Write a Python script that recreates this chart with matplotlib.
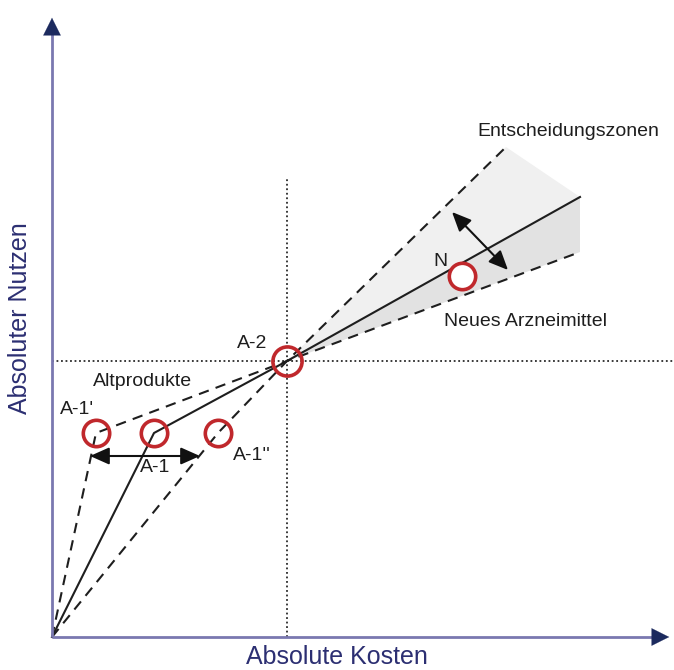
import matplotlib
matplotlib.use("Agg")
import matplotlib.pyplot as plt
from matplotlib.patches import Polygon

plt.rcParams['font.family'] = ['Liberation Sans', 'DejaVu Sans']

# ---- data (abstract cost / benefit units) ----
origin = (0, 0)
old_names = ["A-1'", "A-1", "A-1''"]
old_cost = [44, 102, 166]
old_benefit = [204, 204, 204]
a2_cost, a2_benefit = 235, 276
n_cost, n_benefit = 410, 361
# ends of the decision-zone rays
upper_end = (454, 490)
mid_end = (528, 440)
lower_end = (528, 385)
# helper arrows
zone_arrow = [(400, 425), (456, 367)]
a1_arrow = [(38, 181), (148, 181)]
axis_x_end = 620
axis_y_end = 622
vline_top = 459

fig = plt.figure(figsize=(6.74, 6.70), dpi=100)
ax = fig.add_axes([0, 0, 1, 1])
ax.set_xlim(-52, 622)
ax.set_ylim(-33, 637)
ax.axis('off')

# shaded decision zone
ax.add_patch(Polygon([(a2_cost, a2_benefit), upper_end, mid_end], closed=True,
                     facecolor='#f0f0f0', edgecolor='none', zorder=1))
ax.add_patch(Polygon([(a2_cost, a2_benefit), mid_end, lower_end], closed=True,
                     facecolor='#e2e2e2', edgecolor='none', zorder=1))

# dotted reference lines
ax.plot([a2_cost, a2_cost], [0, vline_top], color='#2a2a2a', lw=1.3,
        linestyle=(0, (1, 1.5)), zorder=2)
ax.plot([0, 622], [a2_benefit, a2_benefit], color='#2a2a2a', lw=1.3,
        linestyle=(0, (1, 1.5)), zorder=2)

dash = (0, (5, 3.5))
lc = '#1e1e1e'
# dashed: origin -> A-1' -> A-2 -> lower end
ax.plot([0, old_cost[0], a2_cost, lower_end[0]],
        [0, old_benefit[0], a2_benefit, lower_end[1]],
        color=lc, lw=1.5, linestyle=dash, zorder=3)
# dashed: origin -> A-1'' -> A-2 -> upper end
ax.plot([0, old_cost[2], a2_cost, upper_end[0]],
        [0, old_benefit[2], a2_benefit, upper_end[1]],
        color=lc, lw=1.5, linestyle=dash, zorder=3)
# solid: origin -> A-1 -> A-2 -> mid end
ax.plot([0, old_cost[1], a2_cost, mid_end[0]],
        [0, old_benefit[1], a2_benefit, mid_end[1]],
        color=lc, lw=1.5, zorder=3)

# axes
axis_col = '#7a78b0'
head_col = '#1c2a5e'
ax.plot([0, axis_x_end - 10], [0, 0], color=axis_col, lw=2, zorder=4, solid_capstyle='butt')
ax.plot([0, 0], [0, axis_y_end - 10], color=axis_col, lw=2, zorder=4, solid_capstyle='butt')
ax.annotate('', xy=(axis_x_end, 0), xytext=(axis_x_end - 14, 0),
            arrowprops=dict(arrowstyle='-|>,head_length=0.9,head_width=0.45',
                            color=head_col, lw=0.1, mutation_scale=14), zorder=5)
ax.annotate('', xy=(0, axis_y_end), xytext=(0, axis_y_end - 14),
            arrowprops=dict(arrowstyle='-|>,head_length=0.9,head_width=0.45',
                            color=head_col, lw=0.1, mutation_scale=14), zorder=5)

# double arrows
for (p0, p1) in [zone_arrow, a1_arrow]:
    ax.annotate('', xy=p1, xytext=p0,
                arrowprops=dict(arrowstyle='<|-|>,head_length=0.9,head_width=0.4',
                                color='#111111', lw=1.5, mutation_scale=13,
                                shrinkA=0, shrinkB=0), zorder=5)

# circles
ring = '#c0282c'
ax.plot(old_cost, old_benefit, 'o', ms=19, mfc='none', mec=ring, mew=2.6, zorder=6)
ax.plot([a2_cost], [a2_benefit], 'o', ms=21, mfc='none', mec=ring, mew=2.6, zorder=6)
ax.plot([n_cost], [n_benefit], 'o', ms=19, mfc='white', mec=ring, mew=2.6, zorder=6)

fs = 14
tc = '#1e1e1e'
ax.text(516, 505, 'Entscheidungszonen', fontsize=fs, color=tc, ha='center', va='center')
ax.text(473, 315, 'Neues Arzneimittel', fontsize=fs, color=tc, ha='center', va='center')
ax.text(388, 376, 'N', fontsize=fs, color=tc, ha='center', va='center')
ax.text(200, 293, 'A-2', fontsize=fs, color=tc, ha='center', va='center')
ax.text(91, 256, 'Altprodukte', fontsize=fs, color=tc, ha='center', va='center')
ax.text(25, 228, old_names[0], fontsize=fs, color=tc, ha='center', va='center')
ax.text(103, 169, old_names[1], fontsize=fs, color=tc, ha='center', va='center')
ax.text(200, 182, old_names[2], fontsize=fs, color=tc, ha='center', va='center')

lab = '#2c2f72'
ax.text(285, -20, 'Absolute Kosten', fontsize=18, color=lab, ha='center', va='center')
ax.text(-32, 319, 'Absoluter Nutzen', fontsize=18, color=lab, ha='center', va='center',
        rotation=90)

fig.savefig('out.png', dpi=100)
